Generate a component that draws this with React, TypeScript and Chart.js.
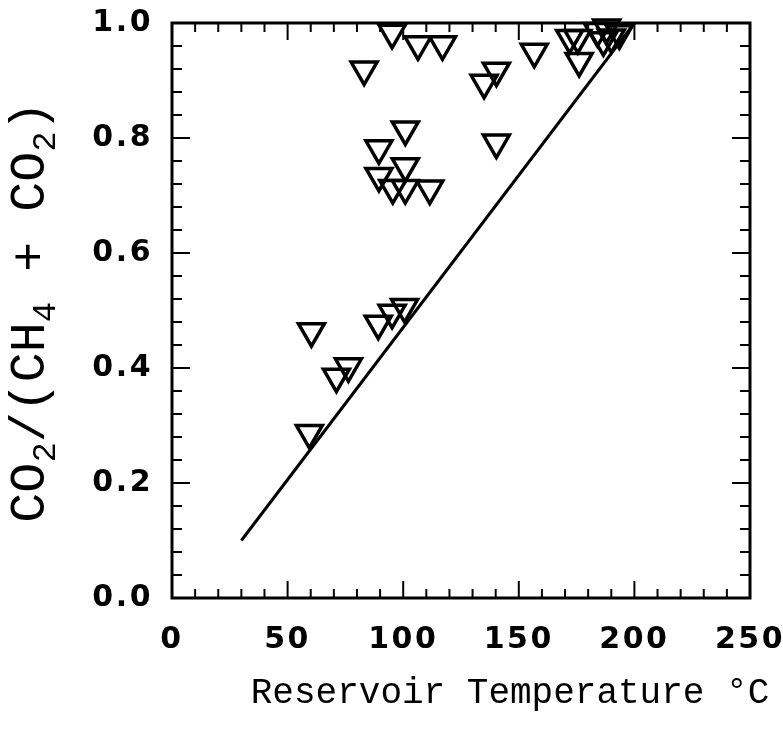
import React, { useEffect, useRef } from "react";
import { Chart, registerables } from "chart.js";

Chart.register(...registerables);

// Reservoir temperature (°C) and CO2/(CH4+CO2) fraction
const temperatureC = [
  95.2, 106.4, 117, 83.1, 100.9, 89.5, 100.9, 89.5, 95.5, 100.9, 111.5,
  59.4, 60.3, 71.1, 76.3, 89.2, 95.2, 100.6,
  156.7, 140.3, 135, 140.3,
  172, 175.5, 176.1, 186.6, 190, 193.5, 188, 184,
];
const co2Fraction = [
  0.983, 0.963, 0.963, 0.919, 0.815, 0.782, 0.751, 0.734, 0.713, 0.713, 0.712,
  0.287, 0.464, 0.385, 0.403, 0.477, 0.496, 0.506,
  0.95, 0.917, 0.896, 0.792,
  0.974, 0.974, 0.934, 0.97, 0.975, 0.982, 0.992, 0.986,
];

// Reference line
const lineTemp = [30, 200];
const lineFraction = [0.1, 1.0];

// Axis settings
const xMin = 0;
const xMax = 250;
const xMajorStep = 50;
const xMinorStep = 10;
const yMin = 0;
const yMax = 1;
const yMajorStep = 0.2;
const yMinorStep = 0.04;

const xTitle = "Reservoir Temperature °C";
const yTitleParts: [string, boolean][] = [
  ["CO", false],
  ["2", true],
  ["/(CH", false],
  ["4", true],
  [" + CO", false],
  ["2", true],
  [")", false],
];

const tickFont = { family: "'DejaVu Sans'", size: 30, weight: "bold" as const };
const titleFamily = "'Liberation Mono'";

const spacingPlugin = {
  id: "spacing",
  beforeDraw(chart: any) {
    (chart.ctx as any).letterSpacing = "2.5px";
  },
};

const framePlugin = {
  id: "frame",
  afterDraw(chart: any) {
    const { ctx, chartArea: a, scales } = chart;
    const xs = scales.x;
    const ys = scales.y;
    ctx.save();
    (ctx as any).letterSpacing = "0px";
    ctx.strokeStyle = "#000";
    ctx.lineCap = "butt";
    ctx.lineWidth = 2;
    const seg = (x1: number, y1: number, x2: number, y2: number) => {
      ctx.beginPath();
      ctx.moveTo(x1, y1);
      ctx.lineTo(x2, y2);
      ctx.stroke();
    };
    const nx = Math.round((xMax - xMin) / xMinorStep);
    const perX = Math.round(xMajorStep / xMinorStep);
    for (let i = 0; i <= nx; i++) {
      const px = xs.getPixelForValue(xMin + i * xMinorStep);
      const len = i % perX === 0 ? 17 : 9;
      seg(px, a.bottom, px, a.bottom - len);
      seg(px, a.top, px, a.top + len);
    }
    const ny = Math.round((yMax - yMin) / yMinorStep);
    const perY = Math.round(yMajorStep / yMinorStep);
    for (let i = 0; i <= ny; i++) {
      const py = ys.getPixelForValue(yMin + i * yMinorStep);
      const len = i % perY === 0 ? 18 : 10;
      seg(a.left, py, a.left + len, py);
      seg(a.right, py, a.right - len, py);
    }
    ctx.lineWidth = 3;
    ctx.strokeRect(a.left, a.top, a.right - a.left, a.bottom - a.top);

    // X title
    ctx.fillStyle = "#000";
    ctx.font = `36px ${titleFamily}`;
    ctx.textAlign = "center";
    ctx.textBaseline = "middle";
    ctx.fillText(xTitle, a.left + 338, 693);

    // Y title with subscripts
    const big = 50;
    const small = 34;
    const widths = yTitleParts.map(([t, sub]) => {
      ctx.font = `${sub ? small : big}px ${titleFamily}`;
      return ctx.measureText(t).width;
    });
    const total = widths.reduce((s, w) => s + w, 0);
    ctx.translate(31, 312);
    ctx.rotate(-Math.PI / 2);
    ctx.textAlign = "left";
    ctx.textBaseline = "middle";
    let cx = -total / 2;
    yTitleParts.forEach(([t, sub], i) => {
      ctx.font = `${sub ? small : big}px ${titleFamily}`;
      ctx.fillText(t, cx, sub ? 15 : 0);
      cx += widths[i];
    });
    ctx.restore();
  },
};

export default function App() {
  const ref = useRef<HTMLCanvasElement | null>(null);
  useEffect(() => {
    if (!ref.current) return;
    const points = temperatureC.map((t, i) => ({ x: t, y: co2Fraction[i] }));
    const linePts = lineTemp.map((t, i) => ({ x: t, y: lineFraction[i] }));
    const chart = new Chart(ref.current, {
      type: "scatter",
      data: {
        datasets: [
          {
            type: "line",
            data: linePts,
            borderColor: "#000",
            borderWidth: 3,
            pointRadius: 0,
            showLine: true,
            fill: false,
          } as any,
          {
            data: points,
            pointStyle: "triangle",
            rotation: 180,
            pointRadius: 15,
            pointHoverRadius: 15,
            borderWidth: 3.5,
            borderColor: "#000",
            backgroundColor: "rgba(0,0,0,0)",
            clip: false,
          } as any,
        ],
      },
      options: {
        animation: false,
        responsive: true,
        maintainAspectRatio: false,
        events: [],
        layout: { autoPadding: false, padding: { top: 23, right: 33, left: 0, bottom: 0 } },
        plugins: { legend: { display: false }, tooltip: { enabled: false } },
        scales: {
          x: {
            type: "linear",
            min: xMin,
            max: xMax,
            grid: { display: false, drawTicks: false },
            border: { display: false },
            ticks: {
              stepSize: xMajorStep,
              color: "#000",
              font: tickFont,
              padding: 24,
              maxRotation: 0,
            },
            afterFit: (s: any) => {
              s.height = 131;
              s.paddingLeft = 0;
              s.paddingRight = 0;
            },
          },
          y: {
            type: "linear",
            min: yMin,
            max: yMax,
            grid: { display: false, drawTicks: false },
            border: { display: false },
            ticks: {
              stepSize: yMajorStep,
              color: "#000",
              font: tickFont,
              padding: 19,
              callback: (v: any) => Number(v).toFixed(1),
            },
            afterFit: (s: any) => {
              s.width = 172;
              s.paddingTop = 0;
              s.paddingBottom = 0;
            },
          },
        },
      },
      plugins: [spacingPlugin, framePlugin],
    });
    return () => chart.destroy();
  }, []);
  return (
    <div style={{ position: "fixed", left: 0, top: 0, width: 783, height: 729, background: "#fff" }}>
      <canvas ref={ref} />
    </div>
  );
}
